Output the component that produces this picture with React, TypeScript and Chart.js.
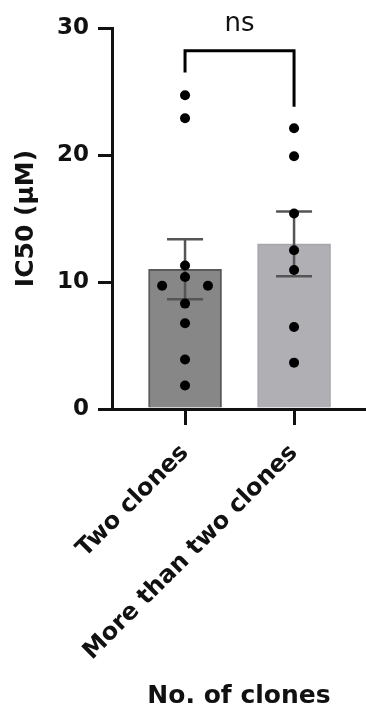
import React, { useEffect, useRef } from 'react';
import { Chart, registerables } from 'chart.js';

Chart.register(...registerables);

// ---- data ----
const categories = ['Two clones', 'More than two clones'];
const meanValues = [11.0, 13.0];
const semValues = [2.36, 2.55];
const twoClonesValues = [24.7, 22.9, 11.3, 10.4, 9.7, 9.7, 8.3, 6.75, 3.9, 1.85];
const twoClonesOffsets = [0, 0, 0, 0, -0.21, 0.21, 0, 0, 0, 0];
const moreClonesValues = [22.1, 19.9, 15.4, 12.5, 10.95, 6.45, 3.65];
const moreClonesOffsets = [0, 0, 0, 0, 0, 0, 0];
const yTickValues = [0, 10, 20, 30];
const bracketXs = [0, 0, 1, 1];
const bracketYs = [26.5, 28.2, 28.2, 23.8];
const significanceLabel = 'ns';
const xAxisTitle = 'No. of clones';
const yAxisTitle = 'IC50 (\u03bcM)';

const FONT = '"DejaVu Sans", sans-serif';

const errorBarPlugin = {
  id: 'errorBars',
  afterDatasetDraw(chart: any, args: any) {
    if (args.index !== 0) return;
    const { ctx } = chart;
    const x = chart.scales.x;
    const y = chart.scales.y;
    ctx.save();
    ctx.strokeStyle = '#555555';
    ctx.lineWidth = 2.5;
    meanValues.forEach((m, i) => {
      const px = x.getPixelForValue(i);
      const top = y.getPixelForValue(m + semValues[i]);
      const bot = y.getPixelForValue(m - semValues[i]);
      ctx.beginPath();
      ctx.moveTo(px, top);
      ctx.lineTo(px, bot);
      ctx.moveTo(px - 18, top);
      ctx.lineTo(px + 18, top);
      ctx.moveTo(px - 18, bot);
      ctx.lineTo(px + 18, bot);
      ctx.stroke();
    });
    ctx.restore();
  },
};

const significancePlugin = {
  id: 'significance',
  afterDraw(chart: any) {
    const { ctx } = chart;
    const x = chart.scales.x;
    const y = chart.scales.y;
    const cx = (x.getPixelForValue(bracketXs[0]) + x.getPixelForValue(bracketXs[3])) / 2;
    const topY = y.getPixelForValue(Math.max(...bracketYs));
    ctx.save();
    ctx.fillStyle = '#111111';
    ctx.font = `26px ${FONT}`;
    ctx.textAlign = 'center';
    ctx.textBaseline = 'middle';
    ctx.fillText(significanceLabel, cx, topY - 27);
    ctx.restore();
  },
};

export default function App() {
  const canvasRef = useRef<HTMLCanvasElement | null>(null);

  useEffect(() => {
    document.body.style.margin = '0';
    const canvas = canvasRef.current;
    if (!canvas) return;

    const chart = new Chart(canvas, {
      type: 'bar',
      data: {
        datasets: [
          {
            type: 'bar',
            data: meanValues.map((v, i) => ({ x: i, y: v })),
            backgroundColor: ['#878787', '#b0afb4'],
            borderColor: ['#5a5a5a', '#a8a7ac'],
            borderWidth: 2,
            barThickness: 73,
            grouped: false,
            order: 3,
          } as any,
          {
            type: 'scatter',
            data: twoClonesValues.map((v, i) => ({ x: 0 + twoClonesOffsets[i], y: v })),
            backgroundColor: '#000000',
            borderWidth: 0,
            pointRadius: 5,
            order: 1,
          } as any,
          {
            type: 'scatter',
            data: moreClonesValues.map((v, i) => ({ x: 1 + moreClonesOffsets[i], y: v })),
            backgroundColor: '#000000',
            borderWidth: 0,
            pointRadius: 5,
            order: 1,
          } as any,
          {
            type: 'line',
            data: bracketXs.map((bx, i) => ({ x: bx, y: bracketYs[i] })),
            borderColor: '#000000',
            borderWidth: 3,
            pointRadius: 0,
            fill: false,
            tension: 0,
            clip: false,
            borderCapStyle: 'butt',
            borderJoinStyle: 'miter',
            order: 0,
          } as any,
        ],
      },
      options: {
        responsive: false,
        animation: false,
        devicePixelRatio: 1,
        layout: { autoPadding: false, padding: { top: 28, right: 0, left: 0, bottom: 0 } },
        plugins: {
          legend: { display: false },
          tooltip: { enabled: false },
        },
        scales: {
          x: {
            type: 'linear',
            position: 'bottom',
            offset: false,
            min: -0.67,
            max: 1.66,
            afterBuildTicks: (scale: any) => {
              scale.ticks = categories.map((_, i) => ({ value: i }));
            },
            afterFit: (scale: any) => {
              scale.height = 301;
            },
            ticks: {
              callback: (v: any) => categories[Math.round(Number(v))],
              autoSkip: false,
              minRotation: 45,
              maxRotation: 45,
              padding: 14,
              color: '#111111',
              font: { family: FONT, size: 24, weight: 'bold' },
            },
            grid: {
              display: true,
              offset: false,
              drawOnChartArea: false,
              drawTicks: true,
              tickLength: 16,
              lineWidth: 3,
              color: '#111111',
            },
            border: { display: true, color: '#111111', width: 3 },
            title: {
              display: true,
              text: xAxisTitle,
              color: '#111111',
              font: { family: FONT, size: 25, weight: 'bold', lineHeight: 1.12 },
              padding: { top: 0, bottom: 0 },
            },
          } as any,
          y: {
            type: 'linear',
            min: 0,
            max: 30,
            afterBuildTicks: (scale: any) => {
              scale.ticks = yTickValues.map((v) => ({ value: v }));
            },
            afterFit: (scale: any) => {
              scale.width = 112;
            },
            ticks: {
              padding: 9,
              color: '#111111',
              font: { family: FONT, size: 23, weight: 'bold' },
            },
            grid: {
              display: true,
              drawOnChartArea: false,
              drawTicks: true,
              tickLength: 14,
              lineWidth: 3,
              color: '#111111',
            },
            border: { display: true, color: '#111111', width: 3 },
            title: {
              display: true,
              text: yAxisTitle,
              color: '#111111',
              font: { family: FONT, size: 25, weight: 'bold', lineHeight: 1.2 },
              padding: { top: 11, bottom: 11 },
            },
          } as any,
        },
      } as any,
      plugins: [errorBarPlugin, significancePlugin],
    });

    return () => chart.destroy();
  }, []);

  return (
    <div style={{ width: 366, height: 710 }}>
      <canvas ref={canvasRef} width={366} height={710} style={{ display: 'block' }} />
    </div>
  );
}
